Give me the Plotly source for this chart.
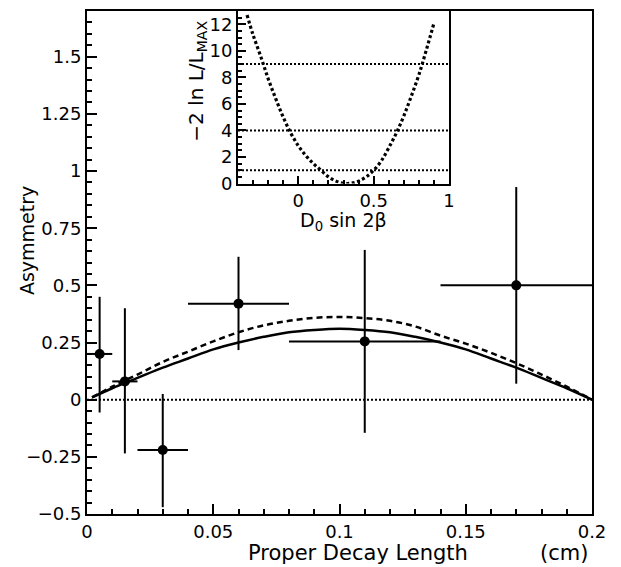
import plotly.graph_objects as go

# ---- main plot data ----
pt_x = [0.005, 0.015, 0.03, 0.06, 0.11, 0.17]
pt_xerr = [0.005, 0.005, 0.01, 0.02, 0.03, 0.03]
pt_y = [0.20, 0.08, -0.22, 0.42, 0.255, 0.50]
pt_yerr_plus = [0.25, 0.32, 0.245, 0.205, 0.40, 0.43]
pt_yerr_minus = [0.256, 0.315, 0.25, 0.203, 0.40, 0.43]

curve_x = [0.002, 0.01, 0.02, 0.03, 0.04, 0.05, 0.06, 0.07, 0.08, 0.09, 0.10,
           0.11, 0.12, 0.13, 0.14, 0.15, 0.16, 0.17, 0.18, 0.19, 0.20]
solid_y = [0.01, 0.05, 0.095, 0.14, 0.18, 0.22, 0.25, 0.275, 0.295, 0.305, 0.31,
           0.305, 0.295, 0.275, 0.25, 0.22, 0.18, 0.14, 0.095, 0.05, 0.0]
dashed_y = [0.01, 0.057, 0.11, 0.165, 0.21, 0.255, 0.295, 0.325, 0.345, 0.358, 0.362,
            0.357, 0.345, 0.32, 0.28, 0.245, 0.205, 0.16, 0.11, 0.057, 0.0]

# ---- inset data ----
ins_x = [-0.34, -0.30, -0.25, -0.20, -0.15, -0.10, -0.05, 0.0, 0.05, 0.10, 0.15, 0.20, 0.25,
         0.30, 0.35, 0.40, 0.45, 0.50, 0.55, 0.60, 0.65, 0.70, 0.75, 0.80, 0.85, 0.90]
ins_y = [12.7, 11.2, 9.6, 7.9, 6.4, 5.0, 3.8, 2.85, 2.1, 1.5, 1.0, 0.5, 0.18,
         0.02, 0.02, 0.18, 0.5, 1.0, 1.7, 2.7, 3.8, 5.1, 6.6, 8.2, 10.1, 12.1]
ins_levels = [1, 4, 9]

FONT = "DejaVu Sans"
fig = go.Figure()

# zero line
fig.add_trace(go.Scatter(x=[0, 0.2], y=[0, 0], mode="lines",
                         line=dict(color="black", width=2, dash="2px,2px"),
                         hoverinfo="skip", showlegend=False))
# curves
fig.add_trace(go.Scatter(x=curve_x, y=dashed_y, mode="lines", line_shape="spline",
                         line=dict(color="black", width=2.5, dash="6px,4px"),
                         showlegend=False))
fig.add_trace(go.Scatter(x=curve_x, y=solid_y, mode="lines", line_shape="spline",
                         line=dict(color="black", width=2.5),
                         showlegend=False))
# data points
fig.add_trace(go.Scatter(
    x=pt_x, y=pt_y, mode="markers",
    marker=dict(color="black", size=10, symbol="circle"),
    error_x=dict(type="data", array=pt_xerr, color="black", thickness=2, width=0),
    error_y=dict(type="data", symmetric=False, array=pt_yerr_plus,
                 arrayminus=pt_yerr_minus, color="black", thickness=2, width=0),
    showlegend=False))

# inset levels
for lv in ins_levels:
    fig.add_trace(go.Scatter(x=[-0.4, 1.0], y=[lv, lv], mode="lines", xaxis="x2", yaxis="y2",
                             line=dict(color="black", width=2, dash="2px,2px"),
                             showlegend=False))
fig.add_trace(go.Scatter(x=ins_x, y=ins_y, mode="lines", line_shape="spline",
                         xaxis="x2", yaxis="y2",
                         line=dict(color="black", width=3.2, dash="3px,2.5px"),
                         showlegend=False))

axis_common = dict(showline=True, linecolor="black", linewidth=2, mirror=True,
                   ticks="inside", tickcolor="black", tickwidth=1.5,
                   showgrid=False, zeroline=False,
                   tickfont=dict(family=FONT, size=18, color="black"))

fig.update_layout(
    width=621, height=567,
    margin=dict(l=87, r=29, t=9, b=53),
    paper_bgcolor="white", plot_bgcolor="white",
    font=dict(family=FONT, color="black"),
    xaxis=dict(range=[0, 0.2], tickvals=[0, 0.05, 0.1, 0.15, 0.2],
               ticktext=["0", "0.05", "0.1", "0.15", "0.2"], ticklen=10,
               minor=dict(dtick=0.01, ticks="inside", ticklen=5, tickcolor="black", tickwidth=1.5),
               domain=[0, 1], **axis_common),
    yaxis=dict(range=[-0.5, 1.7], tickvals=[-0.5, -0.25, 0, 0.25, 0.5, 0.75, 1, 1.25, 1.5],
               ticktext=["\u22120.5", "\u22120.25", "0", "0.25", "0.5", "0.75", "1", "1.25", "1.5"],
               ticklen=10,
               minor=dict(dtick=0.05, tick0=0, ticks="inside", ticklen=5, tickcolor="black", tickwidth=1.5),
               domain=[0, 1], **axis_common),
    xaxis2=dict(range=[-0.4, 1.0], tickvals=[0, 0.5, 1], ticktext=["0", "0.5", "1"], ticklen=8,
                minor=dict(dtick=0.1, tick0=0, ticks="inside", ticklen=4, tickcolor="black", tickwidth=1.5),
                domain=[0.299, 0.717], anchor="y2", **axis_common),
    yaxis2=dict(range=[0, 13], tickvals=[0, 2, 4, 6, 8, 10, 12], ticklen=8,
                minor=dict(dtick=0.5, tick0=0, ticks="inside", ticklen=4, tickcolor="black", tickwidth=1.5),
                domain=[0.657, 1.0], anchor="x2", **axis_common),
)

def px_to_paper(xp, yp):
    return (xp - 87) / 505.0, (514 - yp) / 505.0

anns = []
ax, ay = px_to_paper(358, 553)
anns.append(dict(text="Proper Decay Length", x=ax, y=ay, font=dict(size=21)))
ax, ay = px_to_paper(564, 553)
anns.append(dict(text="(cm)", x=ax, y=ay, font=dict(size=21)))
ax, ay = px_to_paper(27, 240)
anns.append(dict(text="Asymmetry", x=ax, y=ay, textangle=-90, font=dict(size=19)))
ax, ay = px_to_paper(343, 220)
anns.append(dict(text="D<sub>0</sub> sin 2\u03b2", x=ax, y=ay, font=dict(size=19)))
ax, ay = px_to_paper(197, 80)
anns.append(dict(text="\u22122 ln L/L<sub>MAX</sub>", x=ax, y=ay, textangle=-90, font=dict(size=20)))
for a in anns:
    a.update(xref="paper", yref="paper", showarrow=False, xanchor="center", yanchor="middle")
    a["font"].update(family=FONT, color="black")
fig.update_layout(annotations=anns)

fig.write_html("out.html", config={"displayModeBar": False},
               post_script="document.body.style.margin='0';document.body.style.padding='0';")
